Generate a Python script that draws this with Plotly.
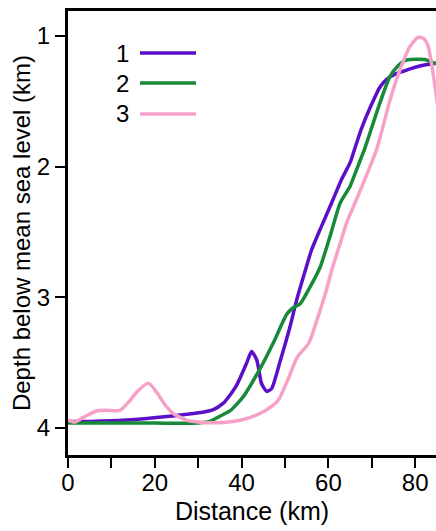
import plotly.graph_objects as go

# ---- data ----
series_names = ["1", "2", "3"]
series_colors = ["#5b10c8", "#178a3a", "#f7a1c9"]

x1 = [0, 5, 13.5, 20.4, 28.9, 31, 33.5, 35.8, 36.6, 38.9, 41.2, 42.3, 43.5, 44.6,
      45.8, 46.9, 48.8, 51.2, 52.7, 54.9, 56.1, 58.5, 61.1, 63, 65.0, 66.1, 67.5,
      69.6, 71.9, 73.5, 75.5, 77.3, 79, 81.1, 84.6, 86]
y1 = [3.951, 3.95, 3.94, 3.92, 3.89, 3.88, 3.86, 3.81, 3.78, 3.67, 3.50, 3.415,
      3.48, 3.66, 3.72, 3.70, 3.50, 3.22, 3.02, 2.77, 2.64, 2.45, 2.25, 2.10, 1.97,
      1.86, 1.72, 1.55, 1.39, 1.33, 1.29, 1.27, 1.25, 1.23, 1.21, 1.20]

x2 = [0, 10, 20, 30, 32.7, 35, 37.3, 40.4, 44.2, 47.3, 50.4, 51.9, 53.5, 55.8,
      58.1, 60.5, 62.7, 65.0, 67, 68.4, 69.6, 71.9, 74.2, 76.0, 77.5, 78.8, 82.2,
      84.6, 86]
y2 = [3.963, 3.963, 3.963, 3.962, 3.95, 3.91, 3.87, 3.76, 3.55, 3.35, 3.13, 3.08,
      3.05, 2.92, 2.77, 2.52, 2.28, 2.15, 1.98, 1.86, 1.74, 1.51, 1.31, 1.23, 1.19,
      1.18, 1.18, 1.21, 1.22]

x3 = [0, 1.6, 3.5, 6.6, 9, 12, 14, 16, 18.5, 20.5, 22.5, 24.3, 27.3, 30, 32, 35,
      38, 41, 43.5, 45.8, 47.5, 48.6, 50.8, 52.8, 55.5, 57.6, 59.5, 60.7, 62.5,
      64.2, 66.5, 69.6, 71.1, 72.7, 74.2, 76.5, 78.8, 80.7, 82, 83.0, 84.6, 85.5]
y3 = [3.94, 3.955, 3.92, 3.87, 3.865, 3.865, 3.80, 3.72, 3.657, 3.73, 3.83, 3.89,
      3.94, 3.955, 3.96, 3.96, 3.95, 3.93, 3.90, 3.86, 3.82, 3.78, 3.62, 3.46, 3.35,
      3.15, 2.95, 2.80, 2.61, 2.43, 2.25, 2.00, 1.87, 1.68, 1.49, 1.26, 1.08, 1.01,
      1.02, 1.08, 1.39, 1.62]

x_ticks = [0, 20, 40, 60, 80]
y_ticks = [1, 2, 3, 4]

FONT = "Liberation Sans, Arial, sans-serif"

fig = go.Figure()
for name, color, xs, ys in zip(series_names, series_colors, [x1, x2, x3], [y1, y2, y3]):
    fig.add_trace(go.Scatter(x=xs, y=ys, mode="lines", name=name,
                             line=dict(color=color, width=3.5, shape="spline", smoothing=0.6),
                             showlegend=False, hoverinfo="skip"))

# manual legend: text left of line
leg_y_px = [53, 83, 114]
for name, color, py in zip(series_names, series_colors, leg_y_px):
    yp = (455 - py) / 444
    fig.add_shape(type="line", xref="paper", yref="paper",
                  x0=(140 - 68) / 368, x1=(196 - 68) / 368, y0=yp, y1=yp,
                  line=dict(color=color, width=3.5))
    fig.add_annotation(xref="paper", yref="paper", x=(131 - 68) / 368, y=yp,
                       text=name, showarrow=False, xanchor="right", yanchor="middle",
                       font=dict(family=FONT, size=24, color="black"))

fig.update_layout(
    width=436, height=531,
    margin=dict(l=68, r=0, t=11, b=76),
    paper_bgcolor="white", plot_bgcolor="white",
    font=dict(family=FONT, size=24, color="black"),
    xaxis=dict(range=[0, 84.8], tickvals=x_ticks, ticks="outside", ticklen=10,
               tickwidth=2, tickcolor="black", showline=True, linewidth=3,
               linecolor="black", mirror=True, showgrid=False, zeroline=False,
               minor=dict(tickvals=[10, 30, 50, 70], ticks="outside", ticklen=10,
                          tickwidth=2, tickcolor="black", showgrid=False),
               ticklabelstandoff=-6,
               title=dict(text="Distance (km)", font=dict(size=25), standoff=8),
               tickfont=dict(size=24)),
    yaxis=dict(range=[4.207, 0.809], tickvals=y_ticks, ticks="outside", ticklen=10,
               tickwidth=2, tickcolor="black", showline=True, linewidth=3,
               linecolor="black", showgrid=False, zeroline=False,
               title=dict(text="Depth below mean sea level (km)", font=dict(size=24),
                          standoff=0),
               tickfont=dict(size=24)),
)

fig.write_html("out.html", config={"displayModeBar": False, "staticPlot": True},
               post_script="document.body.style.margin='0';document.body.style.overflow='hidden';")
